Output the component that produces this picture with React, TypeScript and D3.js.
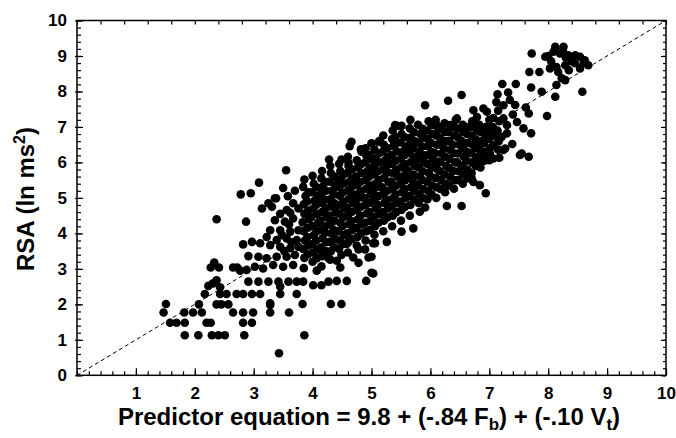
import { useRef, useEffect } from 'react';
import { select, scaleLinear, axisBottom, axisLeft, axisTop, axisRight, range, line } from 'd3';

type Pt = [number, number];

// predictor value, RSA (ln ms^2)
const lowerTail: Pt[] = [
  [1.47, 1.77], [1.51, 2.01], [1.58, 1.48], [1.69, 1.48], [1.83, 1.48], [1.82, 1.77],
  [1.97, 1.77], [2.12, 1.77], [2.07, 2.0], [1.83, 1.13], [2.06, 1.13], [2.2, 1.48],
  [2.27, 1.48], [2.29, 1.13], [2.4, 1.13], [2.51, 1.13], [2.37, 2.0], [2.45, 2.0],
  [2.57, 2.0], [2.17, 2.29], [2.43, 2.29], [2.54, 2.29], [2.71, 2.29], [2.65, 1.77],
  [2.82, 1.77], [2.99, 1.77], [2.82, 1.48], [2.97, 1.48], [2.84, 1.13], [2.82, 2.29],
  [2.97, 2.29], [3.11, 2.29], [3.28, 1.98], [3.28, 1.77], [3.43, 0.62], [2.23, 2.52],
  [2.43, 2.48], [2.37, 2.68], [2.27, 3.04], [2.41, 3.04], [2.33, 3.18], [2.72, 3.04],
  [2.77, 2.95], [2.65, 3.04], [2.31, 2.59], [2.37, 4.4], [2.87, 4.33], [2.78, 5.1],
  [2.95, 5.13], [3.09, 5.43],
];

const leftBand: Pt[] = [
  [3.38, 4.99], [3.25, 4.85], [3.14, 4.7], [3.31, 4.75], [3.56, 4.66], [3.67, 4.85],
  [3.76, 4.7], [3.36, 4.37], [3.53, 4.33], [3.67, 4.42], [3.28, 4.09], [3.45, 4.09],
  [3.62, 4.05], [3.76, 4.09], [3.22, 3.9], [3.39, 3.81], [3.56, 3.86], [3.73, 3.81],
  [2.82, 3.69], [2.97, 3.76], [3.11, 3.72], [3.28, 3.67], [3.45, 3.62], [3.62, 3.58],
  [3.76, 3.62], [2.91, 3.36], [3.08, 3.34], [3.22, 3.3], [3.39, 3.34], [3.56, 3.34],
  [3.7, 3.39], [2.88, 2.97], [3.02, 3.06], [3.16, 3.01], [3.33, 3.11], [3.5, 3.06],
  [3.67, 3.11], [2.91, 2.64], [3.08, 2.64], [3.25, 2.64], [3.42, 2.64], [3.59, 2.64],
  [3.73, 2.64], [3.6, 4.25], [3.62, 4.58], [3.58, 5.05], [3.45, 4.55], [3.7, 5.2],
  [3.55, 5.78], [3.5, 5.28], [3.36, 4.99], [3.48, 3.95], [3.64, 3.75], [3.52, 3.5],
];

const lowerScatter: Pt[] = [
  [3.45, 2.5], [3.45, 2.29], [3.28, 2.03], [3.6, 1.77], [3.83, 2.01], [4.31, 2.01],
  [4.49, 2.01], [3.73, 2.29], [3.86, 1.13], [3.84, 2.64], [4.01, 2.54], [4.15, 2.54],
  [4.27, 2.64], [4.41, 2.66], [4.58, 2.66], [4.91, 2.66], [5.0, 2.89], [4.95, 3.32],
  [4.78, 3.17], [4.69, 3.32], [4.47, 3.04], [4.41, 3.23], [4.49, 3.39], [4.58, 3.7],
  [4.07, 2.95], [4.07, 3.3], [4.27, 3.3], [5.03, 3.72], [4.78, 3.55], [4.89, 3.55],
  [6.28, 4.77], [6.53, 4.77], [5.91, 4.73], [5.82, 4.61], [5.71, 4.14], [5.51, 4.05],
  [5.26, 3.76], [5.06, 3.72], [5.0, 3.34], [5.03, 2.87],
];

const core: Pt[] = [
  [3.85, 3.02], [3.86, 3.31], [3.84, 3.56], [3.87, 3.8], [3.85, 4.06], [3.83, 4.31], [3.86, 4.55], [3.85, 4.82], [3.88, 5.05], [3.84, 5.31], [3.86, 5.52],
  [4.0, 3.2], [4.01, 3.46], [3.99, 3.7], [4.02, 3.95], [4.0, 4.2], [3.98, 4.46], [4.01, 4.7], [4.03, 4.92], [3.99, 5.16], [4.02, 5.4], [4.0, 5.62],
  [4.15, 3.07], [4.16, 3.36], [4.14, 3.6], [4.17, 3.86], [4.15, 4.1], [4.13, 4.36], [4.16, 4.6], [4.15, 4.86], [4.14, 5.1], [4.17, 5.31], [4.15, 5.55], [4.16, 5.76],
  [4.3, 3.26], [4.31, 3.5], [4.29, 3.76], [4.32, 4.0], [4.3, 4.26], [4.28, 4.5], [4.31, 4.76], [4.3, 4.96], [4.33, 5.2], [4.29, 5.46], [4.31, 5.7], [4.3, 5.9],
  [4.45, 3.56], [4.46, 3.8], [4.44, 4.06], [4.47, 4.3], [4.45, 4.56], [4.43, 4.8], [4.46, 5.06], [4.45, 5.3], [4.44, 5.52], [4.47, 5.76], [4.45, 5.96],
  [4.6, 3.46], [4.61, 3.76], [4.59, 4.0], [4.62, 4.26], [4.6, 4.5], [4.58, 4.72], [4.61, 4.96], [4.6, 5.2], [4.63, 5.46], [4.59, 5.7], [4.61, 5.9], [4.6, 6.16],
  [4.75, 3.66], [4.76, 3.9], [4.74, 4.16], [4.77, 4.4], [4.75, 4.66], [4.73, 4.9], [4.76, 5.1], [4.75, 5.36], [4.74, 5.6], [4.77, 5.86], [4.75, 6.06],
  [4.9, 3.8], [4.91, 4.06], [4.89, 4.3], [4.92, 4.56], [4.9, 4.8], [4.88, 5.0], [4.91, 5.26], [4.9, 5.5], [4.93, 5.76], [4.89, 6.0], [4.91, 6.2], [4.9, 6.4],
  [5.05, 3.96], [5.06, 4.2], [5.04, 4.46], [5.07, 4.7], [5.05, 4.96], [5.03, 5.2], [5.06, 5.4], [5.05, 5.66], [5.04, 5.9], [5.07, 6.1], [5.05, 6.36],
  [5.2, 4.06], [5.21, 4.36], [5.19, 4.6], [5.22, 4.86], [5.2, 5.1], [5.18, 5.3], [5.21, 5.56], [5.2, 5.8], [5.23, 6.06], [5.19, 6.3], [5.21, 6.5], [5.2, 6.76],
  [5.35, 4.2], [5.36, 4.5], [5.34, 4.76], [5.37, 5.0], [5.35, 5.26], [5.33, 5.46], [5.36, 5.7], [5.35, 5.96], [5.34, 6.2], [5.37, 6.46], [5.35, 6.66], [5.36, 6.9],
  [5.5, 4.36], [5.51, 4.66], [5.49, 4.9], [5.52, 5.16], [5.5, 5.4], [5.48, 5.6], [5.51, 5.86], [5.5, 6.1], [5.53, 6.3], [5.49, 6.56], [5.51, 6.8],
  [5.65, 4.5], [5.66, 4.8], [5.64, 5.06], [5.67, 5.3], [5.65, 5.56], [5.63, 5.76], [5.66, 6.0], [5.65, 6.26], [5.64, 6.5], [5.67, 6.7], [5.65, 6.96], [5.66, 7.2],
  [5.8, 4.86], [5.81, 5.1], [5.79, 5.36], [5.82, 5.6], [5.8, 5.86], [5.78, 6.1], [5.81, 6.3], [5.8, 6.56], [5.83, 6.8], [5.79, 7.06],
  [5.95, 4.96], [5.96, 5.2], [5.94, 5.46], [5.97, 5.7], [5.95, 5.96], [5.93, 6.2], [5.96, 6.46], [5.95, 6.66], [5.94, 6.9], [5.97, 7.16],
  [6.1, 5.0], [6.11, 5.3], [6.09, 5.56], [6.12, 5.8], [6.1, 6.0], [6.08, 6.26], [6.11, 6.5], [6.1, 6.76], [6.13, 6.96], [6.09, 7.2],
  [6.25, 5.16], [6.26, 5.4], [6.24, 5.66], [6.27, 5.9], [6.25, 6.16], [6.23, 6.4], [6.26, 6.6], [6.25, 6.86], [6.24, 7.1],
  [6.4, 5.26], [6.41, 5.5], [6.39, 5.76], [6.42, 6.0], [6.4, 6.26], [6.38, 6.5], [6.41, 6.76], [6.4, 7.0], [6.43, 7.2],
  [6.55, 5.4], [6.56, 5.66], [6.54, 5.9], [6.57, 6.16], [6.55, 6.4], [6.53, 6.6], [6.56, 6.86], [6.55, 7.06],
  [6.7, 5.7], [6.71, 6.0], [6.69, 6.26], [6.72, 6.5], [6.7, 6.76], [6.68, 7.0], [6.71, 7.16],
  [6.85, 5.86], [6.86, 6.1], [6.84, 6.36], [6.87, 6.6], [6.85, 6.86], [6.83, 7.06],
  [7.0, 6.06], [7.01, 6.4], [6.99, 6.66], [7.02, 6.96], [7.0, 7.2],
  [7.15, 6.36], [7.16, 6.6], [7.14, 6.9], [7.17, 7.16], [7.15, 7.46],
];

// second layer of dots inside the solid black part of the cloud
const coreInner: Pt[] = [
  [3.92, 3.41], [3.93, 3.66], [3.91, 3.9], [3.92, 4.16], [3.94, 4.4], [3.92, 4.64], [3.91, 4.9], [3.93, 5.16],
  [4.07, 3.31], [4.08, 3.55], [4.06, 3.8], [4.07, 4.06], [4.09, 4.3], [4.07, 4.55], [4.06, 4.8], [4.08, 5.05], [4.07, 5.3],
  [4.22, 3.5], [4.23, 3.75], [4.21, 4.01], [4.22, 4.2], [4.24, 4.45], [4.22, 4.71], [4.21, 4.95], [4.23, 5.2], [4.22, 5.45],
  [4.37, 3.61], [4.38, 3.85], [4.36, 4.1], [4.37, 4.36], [4.39, 4.6], [4.37, 4.85], [4.36, 5.1], [4.38, 5.35], [4.37, 5.6],
  [4.52, 3.7], [4.53, 3.95], [4.51, 4.21], [4.52, 4.45], [4.54, 4.7], [4.52, 4.9], [4.51, 5.15], [4.53, 5.41], [4.52, 5.65],
  [4.67, 3.85], [4.68, 4.1], [4.66, 4.35], [4.67, 4.61], [4.69, 4.85], [4.67, 5.1], [4.66, 5.3], [4.68, 5.55], [4.67, 5.8],
  [4.82, 4.0], [4.83, 4.25], [4.81, 4.5], [4.82, 4.75], [4.84, 5.01], [4.82, 5.2], [4.81, 5.45], [4.83, 5.7], [4.82, 5.95],
  [4.97, 4.1], [4.98, 4.35], [4.96, 4.6], [4.97, 4.86], [4.99, 5.1], [4.97, 5.35], [4.96, 5.6], [4.98, 5.85], [4.97, 6.1],
  [5.12, 4.3], [5.13, 4.55], [5.11, 4.8], [5.12, 5.05], [5.14, 5.31], [5.12, 5.5], [5.11, 5.75], [5.13, 6.0], [5.12, 6.25],
  [5.27, 4.45], [5.28, 4.7], [5.26, 4.95], [5.27, 5.2], [5.29, 5.45], [5.27, 5.71], [5.26, 5.9], [5.28, 6.15], [5.27, 6.4],
  [5.42, 4.6], [5.43, 4.85], [5.41, 5.1], [5.42, 5.35], [5.44, 5.6], [5.42, 5.8], [5.41, 6.05], [5.43, 6.31], [5.42, 6.55],
  [5.57, 4.75], [5.58, 5.0], [5.56, 5.25], [5.57, 5.5], [5.59, 5.7], [5.57, 5.95], [5.56, 6.2], [5.58, 6.45], [5.57, 6.71],
  [5.72, 4.95], [5.73, 5.2], [5.71, 5.45], [5.72, 5.65], [5.74, 5.9], [5.72, 6.15], [5.71, 6.4], [5.73, 6.6], [5.72, 6.85],
  [5.87, 5.0], [5.88, 5.25], [5.86, 5.51], [5.87, 5.75], [5.89, 6.0], [5.87, 6.2], [5.86, 6.45], [5.88, 6.7], [5.87, 6.95],
  [6.02, 5.1], [6.03, 5.35], [6.01, 5.6], [6.02, 5.85], [6.04, 6.1], [6.02, 6.3], [6.01, 6.55], [6.03, 6.8], [6.02, 7.05],
  [6.17, 5.25], [6.18, 5.5], [6.16, 5.75], [6.17, 6.01], [6.19, 6.25], [6.17, 6.5], [6.16, 6.7], [6.18, 6.95],
  [6.32, 5.35], [6.33, 5.6], [6.31, 5.85], [6.32, 6.1], [6.34, 6.35], [6.32, 6.6], [6.31, 6.85], [6.33, 7.05],
  [6.47, 5.5], [6.48, 5.75], [6.46, 6.0], [6.47, 6.25], [6.49, 6.5], [6.47, 6.7], [6.46, 6.95],
  [6.62, 5.55], [6.63, 5.8], [6.61, 6.05], [6.62, 6.3], [6.64, 6.55], [6.62, 6.8], [6.61, 7.0],
  [6.77, 5.9], [6.78, 6.15], [6.76, 6.4], [6.77, 6.65], [6.79, 6.9], [6.77, 7.1],
  [6.92, 6.05], [6.93, 6.3], [6.91, 6.55], [6.92, 6.8], [6.94, 7.0],
  [7.07, 6.5], [7.08, 6.75], [7.06, 7.0], [7.07, 7.25],
];

const upperEdge: Pt[] = [
  [4.28, 6.08], [4.49, 6.08], [4.61, 5.99], [4.83, 6.3], [4.97, 6.21], [4.66, 6.58],
  [4.63, 6.46], [4.82, 6.37], [5.0, 6.54], [5.14, 6.61], [5.4, 7.05], [5.4, 6.72],
  [5.91, 7.61], [6.3, 7.74], [6.53, 7.9], [5.43, 7.03], [5.51, 7.03], [5.12, 6.58],
  [6.73, 7.47], [6.79, 7.28], [6.11, 7.05], [6.45, 7.24], [6.9, 7.52], [6.96, 7.43],
  [7.24, 7.61], [7.24, 7.24], [7.47, 7.14], [7.58, 6.96], [7.71, 6.82], [7.04, 6.77],
  [7.21, 6.72], [7.3, 6.82], [7.39, 6.52], [7.27, 6.39], [7.52, 6.21], [7.67, 6.16],
  [7.55, 6.25], [7.24, 6.35], [6.84, 6.54], [6.9, 6.21], [7.01, 6.25], [7.07, 6.11],
  [7.17, 6.13], [6.76, 5.97], [6.7, 5.55], [6.73, 5.45], [6.84, 5.36], [6.94, 5.13],
  [7.22, 8.21], [7.45, 8.21], [7.14, 7.92], [7.32, 7.97], [7.35, 7.76], [7.44, 7.62],
  [7.62, 7.55], [7.67, 7.38], [7.98, 7.31], [7.3, 7.05], [7.4, 7.35], [7.12, 7.7],
];

const upperCluster: Pt[] = [
  [7.72, 9.07], [7.95, 8.98], [8.12, 9.26], [8.26, 9.26], [8.09, 9.12], [8.2, 9.07],
  [8.34, 9.02], [8.46, 9.02], [8.54, 8.98], [8.62, 8.88], [8.68, 8.74], [8.54, 8.65],
  [8.29, 8.74], [8.14, 8.69], [8.03, 8.65], [8.17, 8.55], [8.23, 8.37], [8.29, 8.32],
  [8.14, 8.18], [8.4, 8.85], [8.3, 8.95], [7.68, 8.55], [7.85, 8.55], [7.71, 8.11],
  [7.89, 7.99], [8.12, 7.85], [8.58, 7.99], [8.0, 9.0], [8.45, 8.8], [8.35, 8.6],
  [8.6, 8.8], [8.25, 9.15], [8.05, 8.85],
];

const points: Pt[] = [
  ...lowerTail, ...leftBand, ...lowerScatter, ...core, ...coreInner, ...upperEdge, ...upperCluster,
];
const axisDomain = [0, 10];
const xLabels = range(1, 11);
const yLabels = range(0, 11);

const W = 676;
const H = 438;
const FONT = '"Liberation Sans", Arial, Helvetica, sans-serif';

export default function App() {
  const gRef = useRef<SVGGElement>(null);

  useEffect(() => {
    if (!gRef.current) return;
    const root = select(gRef.current);
    root.selectAll('*').remove();

    const x = scaleLinear().domain(axisDomain).range([77, 666]);
    const y = scaleLinear().domain(axisDomain).range([375.3, 20.5]);

    const minor = range(0, 10.01, 0.2).map(v => +v.toFixed(1));
    const topTicks = range(0, 10.01, 0.4).map(v => +v.toFixed(1));

    // identity line
    const diag = line<number>().x(d => x(d)).y(d => y(d));
    root.append('path').datum(axisDomain).attr('d', diag)
      .attr('fill', 'none').attr('stroke', '#000').attr('stroke-width', 1).attr('stroke-dasharray', '4,3');

    // points
    root.append('g').selectAll('circle').data(points).join('circle')
      .attr('cx', d => x(d[0])).attr('cy', d => y(d[1])).attr('r', 4.3).attr('fill', '#000');

    const style = (g: any) => {
      g.select('.domain').remove();
      g.selectAll('line').attr('stroke', '#000').attr('stroke-width', 1.2);
      g.selectAll('text').attr('fill', '#000').style('font-family', FONT)
        .style('font-size', '17px').style('font-weight', 'bold');
    };

    // bottom
    root.append('g').attr('transform', `translate(0,${y(0)})`)
      .call(axisBottom(x).tickValues(minor).tickSize(-4).tickFormat(() => '') as any).call(style);
    root.append('g').attr('transform', `translate(0,${y(0)})`)
      .call(axisBottom(x).tickValues(xLabels).tickSize(-7).tickPadding(12).tickFormat((d: any) => String(d)) as any)
      .call(style);

    // left
    root.append('g').attr('transform', `translate(${x(0)},0)`)
      .call(axisLeft(y).tickValues(minor).tickSize(-4).tickFormat(() => '') as any).call(style);
    const left = root.append('g').attr('transform', `translate(${x(0)},0)`)
      .call(axisLeft(y).tickValues(yLabels).tickSize(-6).tickPadding(10).tickFormat((d: any) => String(d)) as any)
      .call(style);
    left.selectAll('line').attr('x1', -2);

    // top
    root.append('g').attr('transform', `translate(0,${y(10)})`)
      .call(axisTop(x).tickValues(topTicks).tickSize(-4).tickFormat(() => '') as any).call(style);

    // right
    root.append('g').attr('transform', `translate(${x(10)},0)`)
      .call(axisRight(y).tickValues(minor).tickSize(-3).tickFormat(() => '') as any).call(style);
    root.append('g').attr('transform', `translate(${x(10)},0)`)
      .call(axisRight(y).tickValues(yLabels).tickSize(-5).tickFormat(() => '') as any).call(style);

    // frame
    root.append('rect').attr('x', x(0)).attr('y', y(10))
      .attr('width', x(10) - x(0)).attr('height', y(0) - y(10))
      .attr('fill', 'none').attr('stroke', '#000').attr('stroke-width', 1.5);
  }, []);

  return (
    <svg width={W} height={H}
      style={{ position: 'absolute', left: 0, top: 0, background: '#fff' }}>
      <g ref={gRef} />
      <text x={369} y={425} textAnchor="middle" fontFamily={FONT} fontWeight="bold" fontSize={24}>
        Predictor equation = 9.8 + (-.84 F<tspan fontSize={17} dy={5}>b</tspan>
        <tspan dy={-5}>) + (-.10 V</tspan><tspan fontSize={17} dy={5}>t</tspan>
        <tspan dy={-5}>)</tspan>
      </text>
      <text transform="translate(34,199) rotate(-90)" textAnchor="middle" fontFamily={FONT}
        fontWeight="bold" fontSize={24}>
        RSA (ln ms<tspan fontSize={16} dy={-9}>2</tspan><tspan dy={9}>)</tspan>
      </text>
    </svg>
  );
}
